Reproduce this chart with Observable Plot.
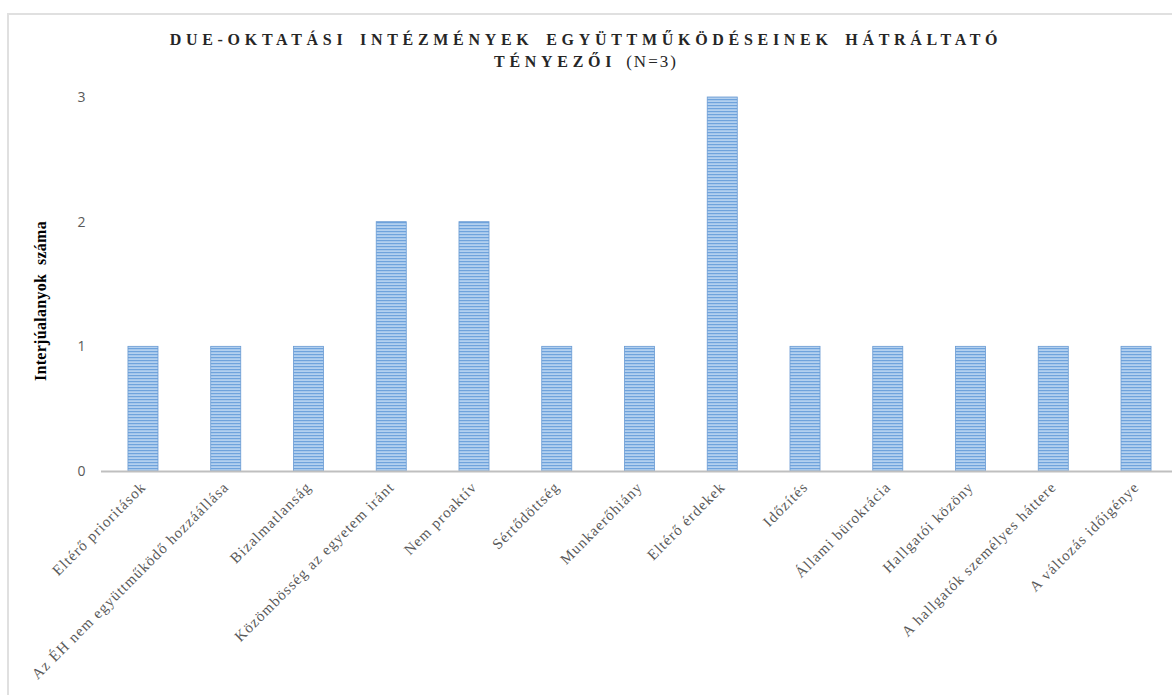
<!DOCTYPE html>
<html>
<head>
<meta charset="utf-8">
<script src="https://cdn.jsdelivr.net/npm/d3@7"></script>
<script src="https://cdn.jsdelivr.net/npm/@observablehq/plot@0.6"></script>
<style>
  html, body { margin: 0; padding: 0; background: #fff; }
  #wrap { position: relative; width: 1172px; height: 695px; overflow: hidden; }
  #frameTop { position: absolute; left: 7px; top: 13px; width: 1165px; height: 0; border-top: 2px solid #e0e0e0; }
  #frameLeft { position: absolute; left: 7px; top: 13px; width: 0; height: 682px; border-left: 2px solid #e0e0e0; }
  #title { position: absolute; left: 0; width: 1172px; top: 29px; text-align: center;
           font-family: "Liberation Serif", "Times New Roman", serif; color: #262626; line-height: 22px; }
  #title .b { font-weight: bold; font-size: 16px; letter-spacing: 4.7px; word-spacing: 4px; }
  #title .n { font-size: 17px; letter-spacing: 2px; margin-left: 10px; }
  #ylab { position: absolute; left: 41px; top: 301px; transform: translate(-50%, -50%) rotate(-90deg);
          white-space: pre; font-family: "Liberation Serif", "Times New Roman", serif; font-weight: bold;
          font-size: 16px; letter-spacing: 0.3px; color: #000; }
  #chart { position: absolute; left: 0; top: 0; }
  #chart g[aria-label="x-axis tick label"] text { letter-spacing: 1.1px; }
</style>
</head>
<body>
<div id="wrap">
  <div id="chart"></div>
  <div id="frameTop"></div>
  <div id="frameLeft"></div>
  <div id="title"><span class="b">DUE-OKTATÁSI INTÉZMÉNYEK EGYÜTTMŰKÖDÉSEINEK HÁTRÁLTATÓ</span><br><span class="b">TÉNYEZŐI</span><span class="n">(N=3)</span></div>
  <div id="ylab">Interjúalanyok  száma</div>
</div>
<script>
const categories = [
  "Eltérő prioritások",
  "Az ÉH nem együttműködő hozzáállása",
  "Bizalmatlanság",
  "Közömbösség az egyetem iránt",
  "Nem proaktív",
  "Sértődöttség",
  "Munkaerőhiány",
  "Eltérő érdekek",
  "Időzítés",
  "Állami bürokrácia",
  "Hallgatói közöny",
  "A hallgatók személyes háttere",
  "A változás időigénye"
];
const values = [1, 1, 1, 2, 2, 1, 1, 3, 1, 1, 1, 1, 1];
const yTicks = [0, 1, 2, 3];

const data = categories.map((c, i) => ({category: c, value: values[i]}));

const chart = Plot.plot({
  width: 1172,
  height: 695,
  marginTop: 97,
  marginBottom: 224,
  marginLeft: 101,
  marginRight: 0,
  style: {background: "transparent", overflow: "visible"},
  x: {domain: categories, range: [101.6, 1177.4], paddingInner: 0.637, paddingOuter: 0.3185, round: false, label: null},
  y: {domain: [0, 3], ticks: yTicks, label: null},
  marks: [
    Plot.barY(data, {x: "category", y: "value", fill: "url(#stripes)", stroke: "#6a9bd3", strokeWidth: 0.8}),
    Plot.ruleY([0], {stroke: "#bfbfbf", strokeWidth: 1.8}),
    Plot.axisY({ticks: yTicks, tickFormat: d3.format("d"), tickSize: 0, tickPadding: 16, fontSize: 14, fontFamily: "Open Sans, sans-serif", fill: "#595959", label: null}),
    Plot.axisX({tickSize: 0, tickRotate: -45, tickPadding: 13, fontSize: 15, fontFamily: "Liberation Serif, Times New Roman, serif", fill: "#595959", label: null})
  ]
});

const svg = d3.select(chart);
const defs = svg.insert("defs", ":first-child");
const pat = defs.append("pattern").attr("id", "stripes").attr("patternUnits", "userSpaceOnUse")
  .attr("width", 6).attr("height", 3);
pat.append("rect").attr("width", 6).attr("height", 3).attr("fill", "#b3d0ef");
pat.append("rect").attr("width", 6).attr("height", 1.2).attr("fill", "#6fa3dc");

document.getElementById("chart").appendChild(chart);
</script>
</body>
</html>
